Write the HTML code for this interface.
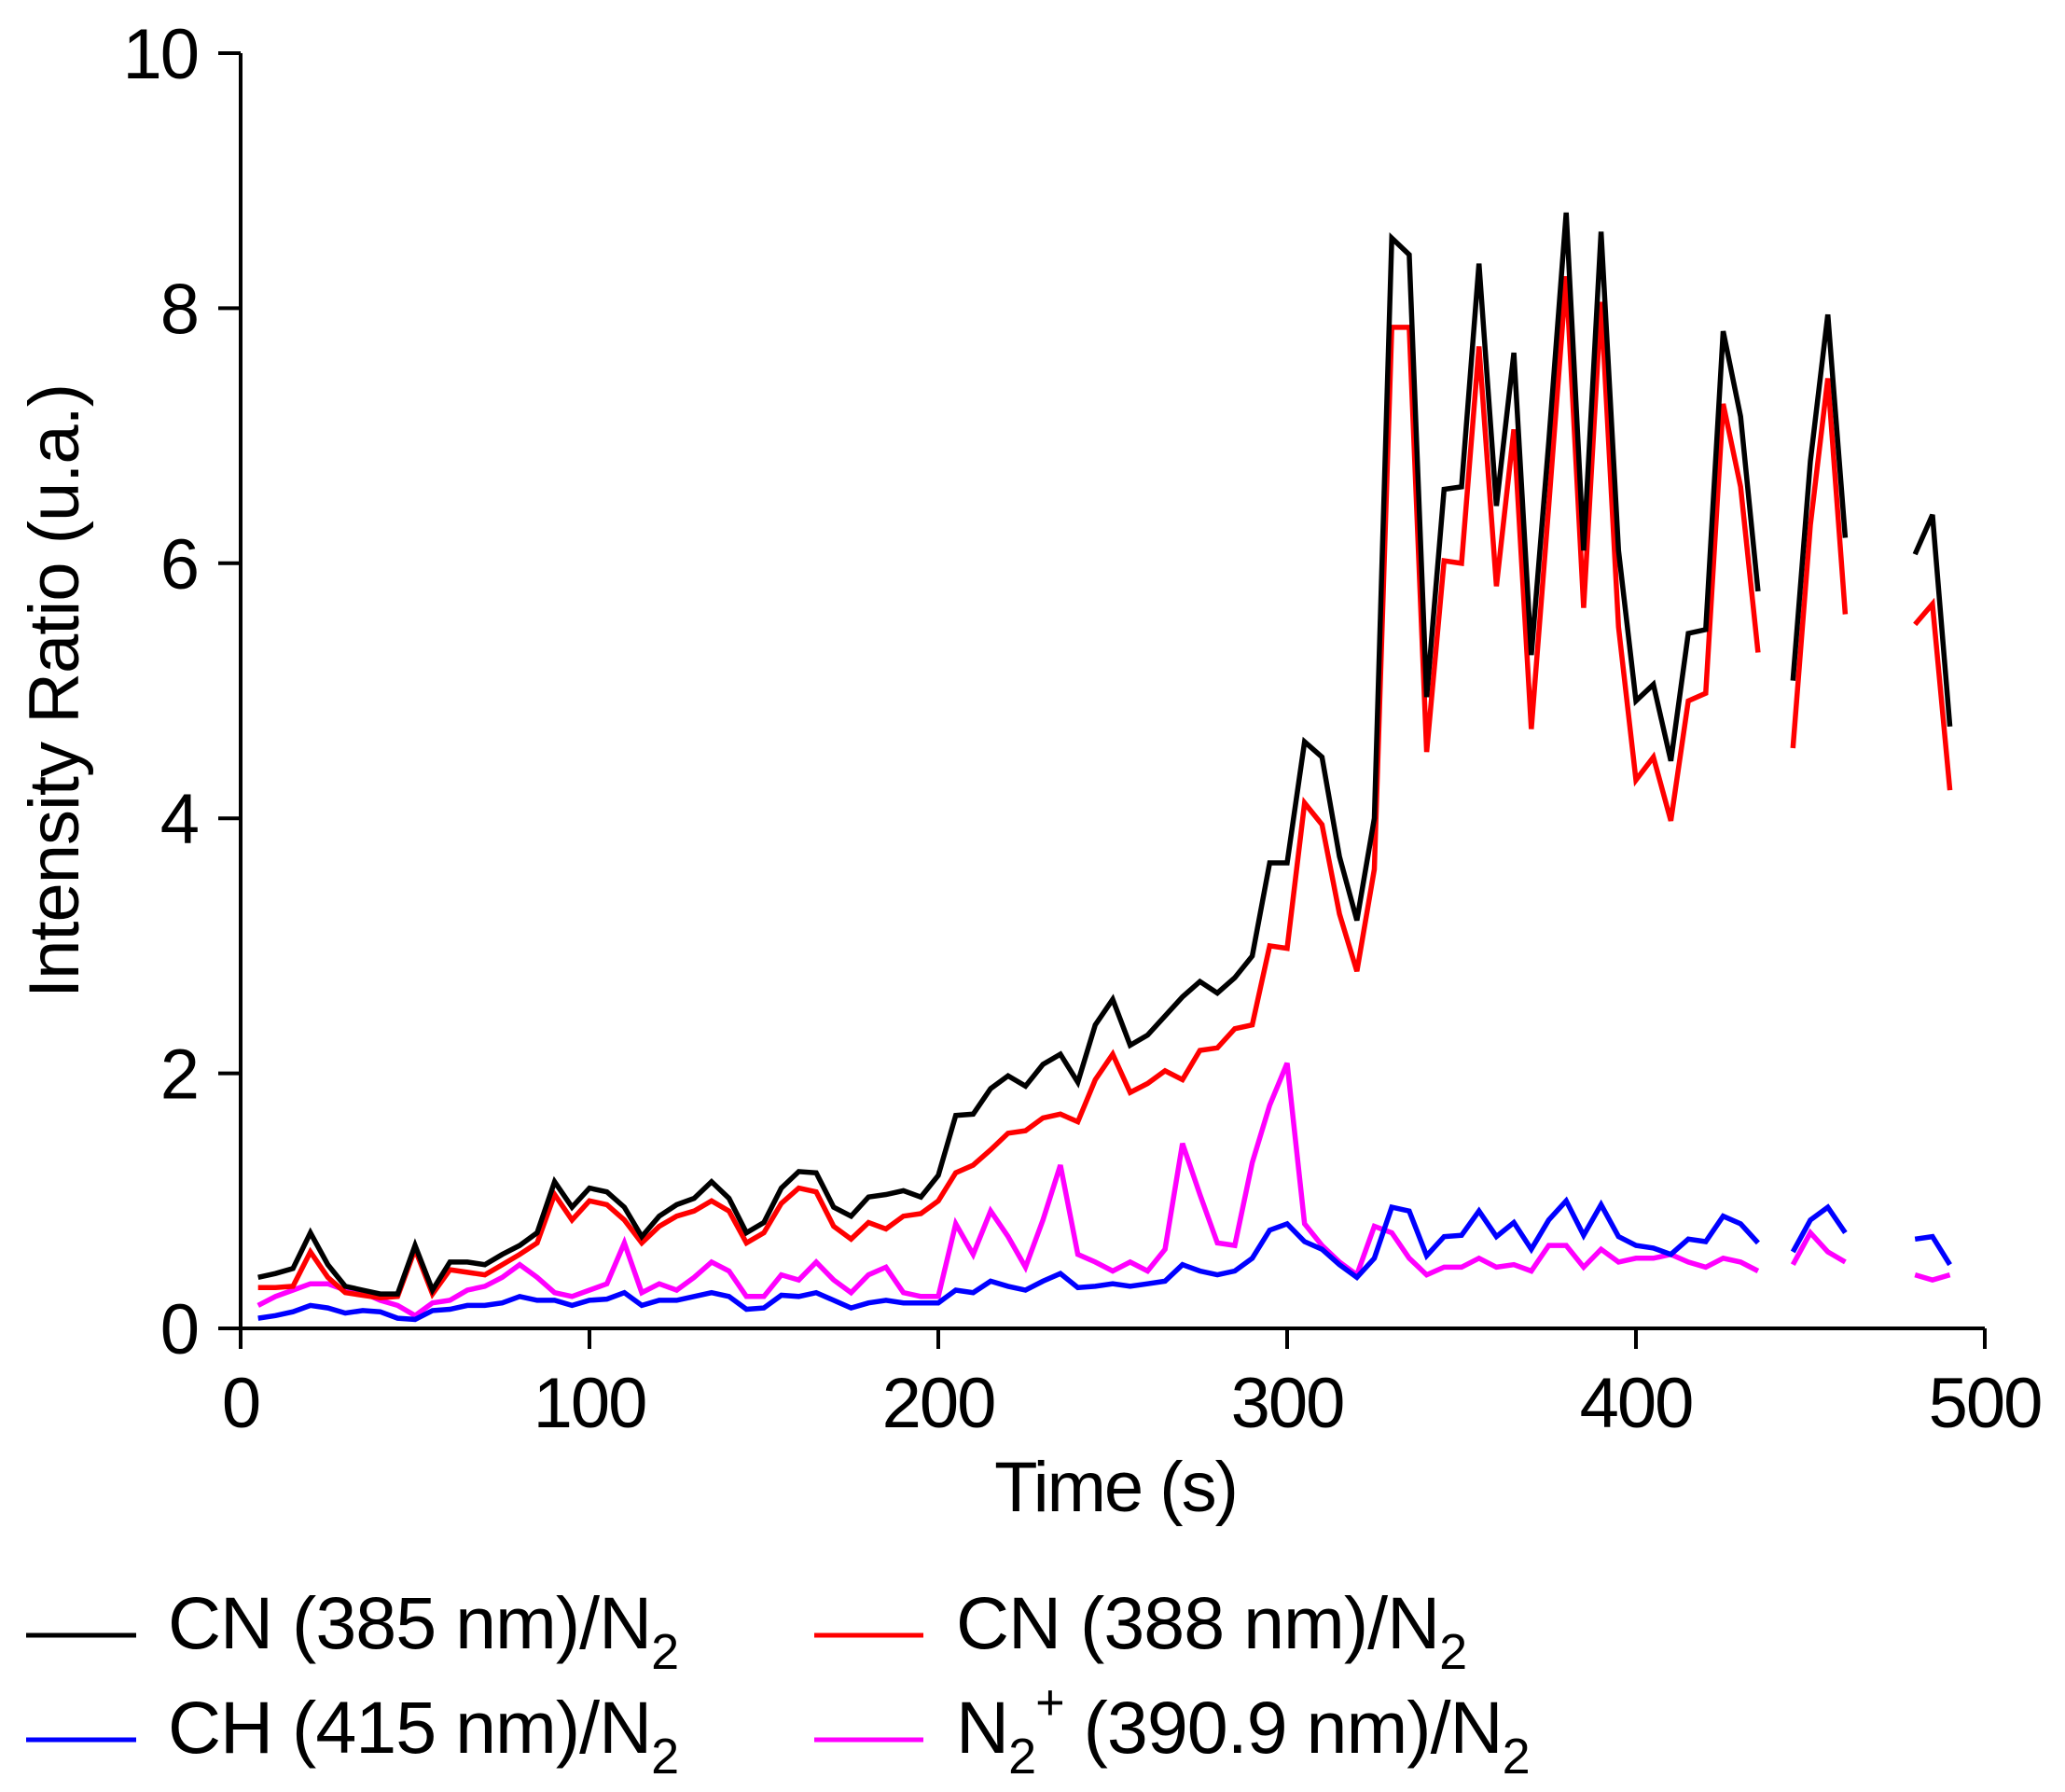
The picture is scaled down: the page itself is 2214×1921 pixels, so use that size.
<!DOCTYPE html>
<html><head><meta charset="utf-8"><style>
html,body{margin:0;padding:0;background:#fff;}
svg{display:block;font-family:"Liberation Sans",sans-serif;}
</style></head><body>
<svg id="chart" width="2214" height="1921" viewBox="0 0 2214 1921" xmlns="http://www.w3.org/2000/svg">
<g id="axes"></g>
<g id="series"></g>
<text x="1196" y="1620" font-size="76" text-anchor="middle" letter-spacing="-2">Time (s)</text>
<text transform="translate(84,741) rotate(-90)" font-size="76" text-anchor="middle" letter-spacing="-1">Intensity Ratio (u.a.)</text>
<g>
<g>
<line x1="28" y1="1753" x2="146" y2="1753" stroke="#000" stroke-width="5"/>
<text x="180" y="1767" font-size="79" letter-spacing="-1">CN (385 nm)/N<tspan font-size="54" dy="22">2</tspan></text></g>
<g>
<line x1="873" y1="1753" x2="990" y2="1753" stroke="#f00" stroke-width="5"/>
<text x="1025" y="1767" font-size="79" letter-spacing="-1">CN (388 nm)/N<tspan font-size="54" dy="22">2</tspan></text></g>
<g>
<line x1="28" y1="1865" x2="146" y2="1865" stroke="#00f" stroke-width="5"/>
<text x="180" y="1879" font-size="79" letter-spacing="-1">CH (415 nm)/N<tspan font-size="54" dy="22">2</tspan></text></g>
<g>
<line x1="873" y1="1865" x2="990" y2="1865" stroke="#f0f" stroke-width="5"/>
<text x="1025" y="1879" font-size="79" letter-spacing="-1">N<tspan font-size="54" dy="22">2</tspan><tspan font-size="54" dy="-58">+</tspan><tspan dy="36"> (390.9 nm)/N</tspan><tspan font-size="54" dy="22">2</tspan></text></g>
</g>
</svg>
<script>
const times=[5,10,15,20,25,30,35,40,45,50,55,60,65,70,75,80,85,90,95,100,105,110,115,120,125,130,135,140,145,150,155,160,165,170,175,180,185,190,195,200,205,210,215,220,225,230,235,240,245,250,255,260,265,270,275,280,285,290,295,300,305,310,315,320,325,330,335,340,345,350,355,360,365,370,375,380,385,390,395,400,405,410,415,420,425,430,435,440,445,450,455,460,465,470,475,480,485,490];
const cn385=[0.4,0.43,0.47,0.75,0.5,0.33,0.3,0.27,0.27,0.65,0.3,0.52,0.52,0.5,0.58,0.65,0.75,1.15,0.95,1.1,1.07,0.95,0.72,0.88,0.97,1.02,1.15,1.02,0.75,0.83,1.1,1.23,1.22,0.95,0.88,1.03,1.05,1.08,1.03,1.2,1.67,1.68,1.88,1.98,1.9,2.07,2.15,1.93,2.38,2.58,2.22,2.3,2.45,2.6,2.72,2.63,2.75,2.92,3.65,3.65,4.6,4.48,3.7,3.2,4.0,8.55,8.42,4.95,6.58,6.6,8.35,6.45,7.65,5.28,6.95,8.75,6.1,8.6,6.1,4.92,5.05,4.45,5.45,5.48,7.82,7.15,5.78,null,5.08,6.8,7.95,6.2,null,null,null,6.07,6.38,4.72];
const cn388=[0.32,0.32,0.33,0.6,0.4,0.28,0.26,0.24,0.25,0.62,0.27,0.46,0.44,0.42,0.5,0.58,0.67,1.05,0.85,1.0,0.97,0.85,0.67,0.8,0.88,0.92,1.0,0.92,0.67,0.75,0.98,1.1,1.07,0.8,0.7,0.83,0.78,0.88,0.9,1.0,1.22,1.28,1.4,1.53,1.55,1.65,1.68,1.62,1.95,2.15,1.85,1.92,2.02,1.95,2.18,2.2,2.35,2.38,3.0,2.98,4.12,3.95,3.25,2.8,3.6,7.85,7.85,4.52,6.02,6.0,7.7,5.82,7.05,4.7,6.45,8.25,5.65,8.05,5.5,4.3,4.48,3.98,4.92,4.98,7.25,6.6,5.3,null,4.55,6.3,7.45,5.6,null,null,null,5.52,5.68,4.22];
const ch415=[0.08,0.1,0.13,0.18,0.16,0.12,0.14,0.13,0.08,0.07,0.14,0.15,0.18,0.18,0.2,0.25,0.22,0.22,0.18,0.22,0.23,0.28,0.18,0.22,0.22,0.25,0.28,0.25,0.15,0.16,0.26,0.25,0.28,0.22,0.16,0.2,0.22,0.2,0.2,0.2,0.3,0.28,0.37,0.33,0.3,0.37,0.43,0.32,0.33,0.35,0.33,0.35,0.37,0.5,0.45,0.42,0.45,0.55,0.77,0.82,0.68,0.62,0.5,0.4,0.55,0.95,0.92,0.57,0.72,0.73,0.92,0.72,0.83,0.62,0.85,1.0,0.73,0.97,0.72,0.65,0.63,0.58,0.7,0.68,0.88,0.82,0.67,null,0.6,0.85,0.95,0.75,null,null,null,0.7,0.72,0.5];
const n2plus=[0.18,0.25,0.3,0.35,0.35,0.3,0.28,0.22,0.18,0.1,0.2,0.22,0.3,0.33,0.4,0.5,0.4,0.28,0.25,0.3,0.35,0.67,0.28,0.35,0.3,0.4,0.52,0.45,0.25,0.25,0.42,0.38,0.52,0.38,0.28,0.42,0.48,0.28,0.25,0.25,0.82,0.58,0.92,0.72,0.48,0.85,1.28,0.58,0.52,0.45,0.52,0.45,0.62,1.45,1.05,0.67,0.65,1.3,1.75,2.08,0.82,0.65,0.52,0.42,0.8,0.75,0.55,0.42,0.48,0.48,0.55,0.48,0.5,0.45,0.65,0.65,0.48,0.62,0.52,0.55,0.55,0.58,0.52,0.48,0.55,0.52,0.45,null,0.5,0.75,0.6,0.52,null,null,null,0.42,0.38,0.42];
const xTicks=[0,100,200,300,400,500];
const yTicks=[0,2,4,6,8,10];

const NS="http://www.w3.org/2000/svg";
const X0=258,X1=2128,Y0=1424,Y1=57;
function xs(v){return X0+(X1-X0)*v/500;}
function ys(v){return Y0-(Y0-Y1)*v/10;}
function mk(tag,attrs,parent){const e=document.createElementNS(NS,tag);for(const k in attrs)e.setAttribute(k,attrs[k]);parent.appendChild(e);return e;}
const axes=document.getElementById('axes');
let a=mk('line',{x1:X0,y1:Y1,x2:X0,y2:Y0,stroke:'#000','stroke-width':4},axes);


a=mk('line',{x1:X0-24,y1:Y0,x2:X1,y2:Y0,stroke:'#000','stroke-width':4},axes);


xTicks.forEach(t=>{
  const l=mk('line',{x1:xs(t),y1:Y0,x2:xs(t),y2:Y0+22,stroke:'#000','stroke-width':4},axes);
  
  
  const tx=mk('text',{x:xs(t),y:1530,'font-size':76,'text-anchor':'middle','letter-spacing':-2},axes);
  tx.textContent=t;
  
  
});
yTicks.forEach(t=>{
  const l=mk('line',{x1:X0-24,y1:ys(t),x2:X0,y2:ys(t),stroke:'#000','stroke-width':4},axes);
  
  
  const tx=mk('text',{x:212,y:ys(t)+27,'font-size':76,'text-anchor':'end','letter-spacing':-2},axes);
  tx.textContent=t;
  
  
});
const sg=document.getElementById('series');
[[cn385,'#000','cn385-line'],[cn388,'#f00','cn388-line'],[ch415,'#00f','ch415-line'],[n2plus,'#f0f','n2plus-line']].reverse().forEach(([vals,col,name])=>{
  let d='',pen=false;
  vals.forEach((v,i)=>{
    if(v===null){pen=false;return;}
    d+=(pen?'L':'M')+xs(times[i]).toFixed(1)+','+ys(v).toFixed(1);
    pen=true;
  });
  const p=mk('path',{d:d,fill:'none',stroke:col,'stroke-width':5.5,'stroke-linejoin':'miter','stroke-miterlimit':3},sg);
  
  
});
</script>
</body></html>
